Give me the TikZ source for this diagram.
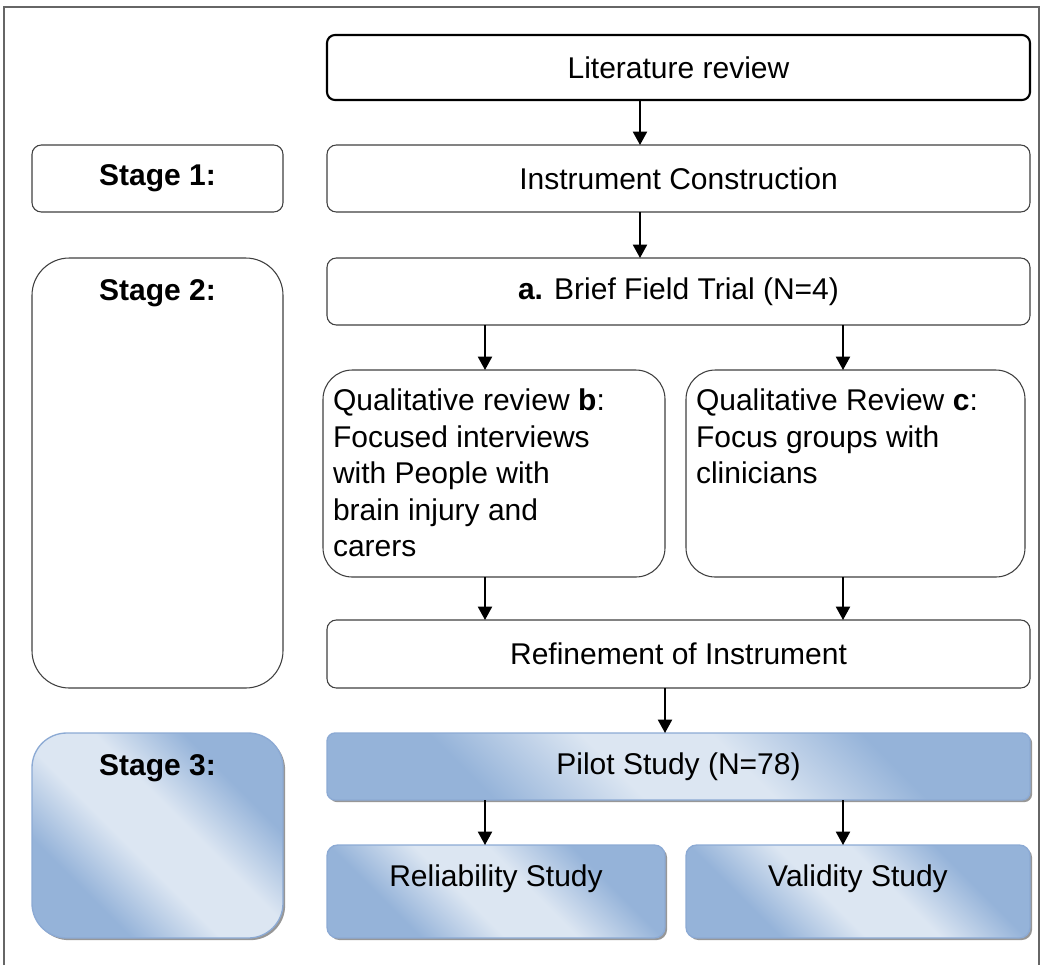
\documentclass[tikz,border=0pt]{standalone}
\usepackage{fontspec}
\setmainfont{Liberation Sans}
\usetikzlibrary{shadows,arrows.meta}
\definecolor{bdark}{HTML}{95B3D9}
\definecolor{blight}{HTML}{DCE6F2}
\definecolor{bedge}{HTML}{8CAAD4}
% diagonal sheen: darker corners, wide light middle
\pgfdeclarehorizontalshading{bluesheen}{100bp}{color(0bp)=(bdark); color(30bp)=(bdark);
  color(44bp)=(blight); color(56bp)=(blight); color(70bp)=(bdark); color(100bp)=(bdark)}
\begin{document}
\begin{tikzpicture}[x=0.75pt,y=-0.75pt,
  font=\fontsize{22.5}{27.4}\selectfont,
  every node/.style={inner sep=0pt, outer sep=0pt},
  plainbox/.style={draw=black!75, line width=0.8pt, rounded corners=7pt, fill=white},
  headbox/.style={draw=black, line width=1.6pt, rounded corners=6pt, fill=white},
  bluebox/.style={draw=bedge, line width=1pt, rounded corners=6pt,
    shading=bluesheen, shading angle=45,
    drop shadow={shadow xshift=1.6pt, shadow yshift=-1.6pt, fill=black!45, opacity=0.9}},
  stagelbl/.style={font=\fontsize{22.5}{27.4}\selectfont\bfseries, anchor=north},
  arr/.style={line width=1.5pt, -{Triangle[length=10pt,width=10.5pt]}}]
\useasboundingbox (0,0) rectangle (1042,965);
% outer frame, open at the bottom
\draw[black!60, line width=1pt] (4,965) -- (4,7) -- (1039,7) -- (1039,965);

% main column
\node[headbox, minimum width=527.25pt, minimum height=48.75pt] (lit) at (678.5,67.5) {Literature review};
\node[plainbox, minimum width=527.25pt, minimum height=50.25pt] (ic) at (678.5,178.5) {Instrument Construction};
\node[plainbox, minimum width=527.25pt, minimum height=50.25pt] (bft) at (678.5,291.5) {\textbf{a.} Brief Field Trial (N=4)};
\node[plainbox, rounded corners=22pt, minimum width=256.5pt, minimum height=155.25pt] (qb) at (494,473.5) {};
\node[plainbox, rounded corners=22pt, minimum width=254.25pt, minimum height=155.25pt] (qc) at (855.5,473.5) {};
\node[anchor=north west, align=left] (qbt) at ([shift={(10,19)}]qb.north west)
  {Qualitative review \textbf{b}:\\Focused interviews\\with People with\\brain injury and\\carers};
\node[anchor=north west, align=left] (qct) at ([shift={(10,19)}]qc.north west)
  {Qualitative Review \textbf{c}:\\Focus groups with\\clinicians};
\node[plainbox, minimum width=527.25pt, minimum height=51pt] (ref) at (678.5,654) {Refinement of Instrument};
\node[bluebox, minimum width=527.25pt, minimum height=50.25pt] (pil) at (678.5,766.5) {Pilot Study (N=78)};
\node[bluebox, rounded corners=8pt, minimum width=253.5pt, minimum height=69.75pt] (rel) at (496,891.5) {};
\node[bluebox, rounded corners=8pt, minimum width=258pt, minimum height=69.75pt] (val) at (858,891.5) {};
\node[anchor=north] (relt) at ([shift={(0,20)}]rel.north) {Reliability Study};
\node[anchor=north] (valt) at ([shift={(0,20)}]val.north) {Validity Study};

% stage column
\node[plainbox, minimum width=188.25pt, minimum height=50.25pt, font=\fontsize{22.5}{27.4}\selectfont\bfseries] (s1) at (157.5,178.5) {Stage 1:};
\node[plainbox, rounded corners=28pt, minimum width=188.25pt, minimum height=322.5pt] (s2) at (157.5,473) {};
\node[stagelbl] (s2t) at ([shift={(0,22)}]s2.north) {Stage 2:};
\node[bluebox, rounded corners=26pt, minimum width=188.25pt, minimum height=153.75pt] (s3) at (157.5,835.5) {};
\node[stagelbl] (s3t) at ([shift={(0,22)}]s3.north) {Stage 3:};

% arrow columns
\coordinate (xa) at (640,0);
\coordinate (xl) at (485,0);
\coordinate (xr) at (843,0);
\coordinate (xm) at (665,0);

\draw[arr] (lit.south -| xa) -- (ic.north -| xa);
\draw[arr] (ic.south -| xa) -- (bft.north -| xa);
\draw[arr] (bft.south -| xl) -- (qb.north -| xl);
\draw[arr] (bft.south -| xr) -- (qc.north -| xr);
\draw[arr] (qb.south -| xl) -- (ref.north -| xl);
\draw[arr] (qc.south -| xr) -- (ref.north -| xr);
\draw[arr] (ref.south -| xm) -- (pil.north -| xm);
\draw[arr] (pil.south -| xl) -- (rel.north -| xl);
\draw[arr] (pil.south -| xr) -- (val.north -| xr);
\end{tikzpicture}
\end{document}
